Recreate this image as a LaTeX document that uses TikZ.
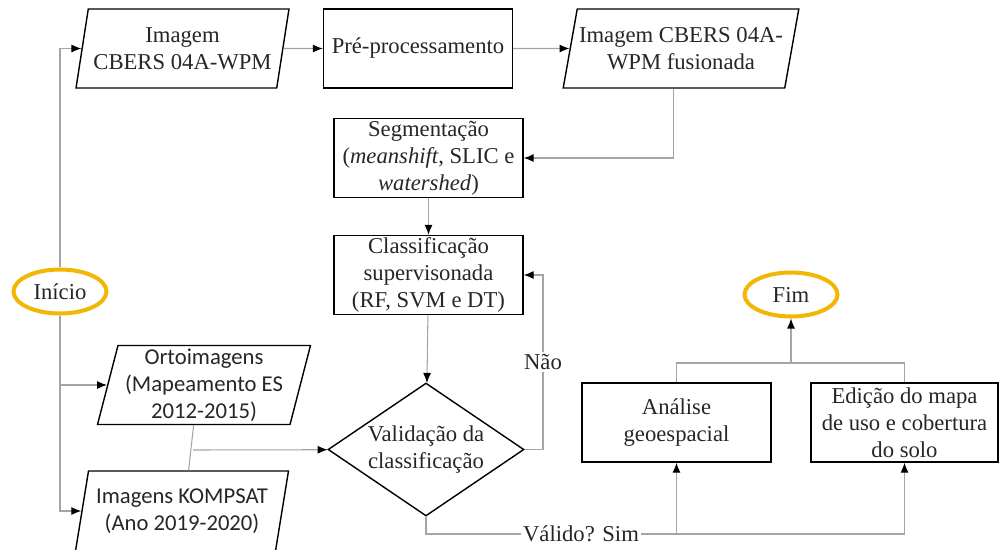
\documentclass[tikz,border=0pt]{standalone}
\usepackage{fontspec}
\setmainfont{Liberation Serif}
\newfontfamily\calfont{Carlito}
\usetikzlibrary{shapes.geometric,arrows.meta}
\definecolor{gold}{RGB}{242,183,5}
\definecolor{linegray}{RGB}{165,165,165}
\tikzset{
  txt/.style={font=\fontsize{12.9}{15.4}\selectfont, align=center, text=black!85},
  proc/.style={txt, draw, rectangle, line width=0.8pt, minimum width=3.78cm, minimum height=1.58cm, inner sep=1pt},
  dado/.style={txt, draw, trapezium, trapezium left angle=75, trapezium right angle=105,
    trapezium stretches body=true, line width=0.8pt, minimum width=4.26cm, minimum height=1.58cm, inner sep=1pt},
  term/.style={txt, draw=gold, ellipse, line width=2.3pt, minimum width=1.86cm, minimum height=0.88cm, inner sep=0pt},
  dec/.style={txt, draw, diamond, shape aspect=1.47, line width=0.8pt, minimum width=3.92cm, minimum height=2.66cm, inner sep=0pt},
  line/.style={draw=linegray, line width=0.6pt},
  arr/.style={line, -{Latex[length=0.2cm, width=0.16cm, color=black]}},
  lbl/.style={txt, fill=white, inner sep=1pt}
}
\begin{document}
\begin{tikzpicture}[x=0.02cm, y=-0.02cm]
  \useasboundingbox (0,0) rectangle (1005,549);
  % entradas
  \node[term] (ini) at (60,291.5) {Início};
  \node[dado] (in1) at (182.5,48.5) {Imagem\\CBERS 04A-WPM};
  \node[dado, font=\calfont\fontsize{12.9}{15.4}\selectfont] (orto) at (204,385) {Ortoimagens\\(Mapeamento ES\\2012-2015)};
  \node[dado, font=\calfont\fontsize{12.9}{15.4}\selectfont, minimum height=1.6cm] (kom) at (182,511) {Imagens KOMPSAT\\(Ano 2019-2020)};
  % processamento
  \node[proc] (pre) at (418,48.5) {Pré-processamento};
  \node[dado, trapezium left angle=73, trapezium right angle=107, minimum width=4.42cm] (fus) at (681,48.5) {Imagem CBERS 04A-\\WPM fusionada};
  \node[proc] (seg) at (428.5,158) {Segmentação\\(\textit{meanshift}, SLIC e\\\textit{watershed})};
  \node[proc] (cla) at (428.5,275) {Classificação\\supervisonada\\(RF, SVM e DT)};
  \node[dec] (val) at (426,449.5) {Validação da\\classificação};
  % saidas
  \node[proc] (ana) at (676.5,422.5) {Análise\\geoespacial};
  \node[proc, minimum width=3.74cm] (edi) at (904.5,422.5) {Edição do mapa\\de uso e cobertura\\do solo};
  \node[term] (fim) at (791,294.5) {Fim};
  \node[lbl] (nao) at (543,362) {Não};
  \node[lbl] (sim) at (581,534) {Válido? Sim};
  \coordinate (top) at (791,363);
  \coordinate (j1) at (193,450);

  \draw[arr] (ini) |- (in1);
  \draw[arr] (ini) |- (orto);
  \draw[arr] (ini) |- (kom);
  \draw[arr] (in1) -- (pre);
  \draw[arr] (pre) -- (fus);
  \draw[arr] (fus.bottom side) |- (seg);
  \draw[arr] (seg) -- (cla);
  \draw[arr] (cla) -- (val);
  \draw[line] (val) -| (nao);
  \draw[arr] (nao) |- (cla);
  \draw[line] (orto.bottom side) -- (kom.top side);
  \draw[arr] (j1) -- (val);
  \draw[line] (val) |- (sim);
  \draw[arr] (sim) -| (ana);
  \draw[arr] (sim) -| (edi);
  \draw[line] (ana) |- (top) -| (edi);
  \draw[arr] (top) -- (fim);
\end{tikzpicture}
\end{document}
